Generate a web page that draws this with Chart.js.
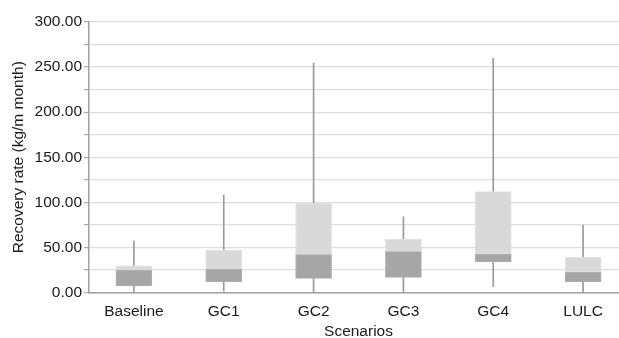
<!DOCTYPE html>
<html>
<head>
<meta charset="utf-8">
<script src="https://cdn.jsdelivr.net/npm/chart.js@4"></script>
<style>
  html, body { margin: 0; padding: 0; background: #fff; overflow: hidden; }
  #wrap { width: 619px; height: 338px; overflow: hidden; }
</style>
</head>
<body>
<div id="wrap"><canvas id="canvas" width="640" height="341"></canvas></div>
<script>
// box plot values
const scenarios = ["Baseline", "GC1", "GC2", "GC3", "GC4", "LULC"]
const minVals = [0.5, 1.5, 0.5, 0.5, 6.5, 0.5]
const q1Vals = [7.2, 11.6, 15.7, 16.8, 33.8, 11.6]
const medianVals = [25, 25.7, 42, 45.3, 42.7, 22.7]
const q3Vals = [29.7, 47, 98.9, 59, 111.8, 39]
const maxVals = [57, 108, 254.5, 84, 259.7, 74.9]

const yTicks = [0, 50, 100, 150, 200, 250, 300]

var whiskers = scenarios.map((s, i) => [minVals[i], maxVals[i]])
var lowerBox = scenarios.map((s, i) => [q1Vals[i], medianVals[i]])
var upperBox = scenarios.map((s, i) => [medianVals[i], q3Vals[i]])

var font = { family: "'Liberation Sans', Arial, sans-serif", size: 15.5 }

var chart = new Chart(document.getElementById("canvas"), {
    type: 'bar',
    data: {
        labels: scenarios,
        datasets: [
            {
                label: 'upper',
                data: upperBox,
                backgroundColor: '#d9d9d9',
                borderColor: '#e2e2e2',
                borderWidth: 1,
                borderSkipped: false,
                barThickness: 36,
                grouped: false,
                order: 1
            },
            {
                label: 'lower',
                data: lowerBox,
                backgroundColor: '#a6a6a6',
                borderColor: '#b0b0b0',
                borderWidth: 1,
                borderSkipped: false,
                barThickness: 36,
                grouped: false,
                order: 0
            },
            {
                label: 'whisker',
                data: whiskers,
                backgroundColor: '#9a9a9a',
                borderWidth: 0,
                barThickness: 1,
                grouped: false,
                order: 2
            }
        ]
    },
    options: {
        responsive: false,
        animation: false,
        devicePixelRatio: 1,
        layout: { padding: { left: 0, right: 12, top: 22, bottom: 0 } },
        plugins: {
            legend: { display: false },
            tooltip: { enabled: false }
        },
        scales: {
            x: {
                grid: { display: false, drawTicks: false },
                border: { color: '#a0a0a0', width: 1.5 },
                ticks: { color: '#1a1a1a', font: font, padding: 10, maxRotation: 0 },
                title: { display: true, text: 'Scenarios', color: '#1a1a1a', font: font, padding: 0 },
                afterFit: (s) => { s.height = 48.5 }
            },
            y: {
                min: 0,
                max: 300,
                ticks: {
                    stepSize: 25,
                    color: '#1a1a1a',
                    font: font,
                    padding: 2,
                    callback: (v) => yTicks.includes(v) ? v.toFixed(2) : ''
                },
                grid: { color: '#dedede', lineWidth: 1.2, tickLength: 5, tickColor: '#a8a8a8' },
                border: { color: '#a0a0a0', width: 1.5 },
                title: { display: true, text: 'Recovery rate (kg/m month)', color: '#1a1a1a', font: font, padding: { top: 9, bottom: 0 } },
                afterFit: (s) => { s.width = 89 }
            }
        }
    }
})
</script>
</body>
</html>
